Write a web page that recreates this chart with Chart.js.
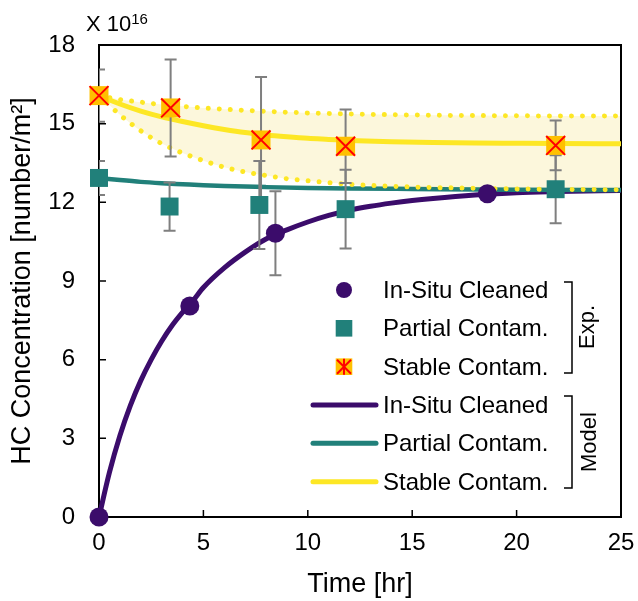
<!DOCTYPE html>
<html><head><meta charset="utf-8">
<script src="https://cdn.jsdelivr.net/npm/chart.js@4.4.0/dist/chart.umd.min.js"></script>
<style>html,body{margin:0;padding:0;background:#fff;}</style>
</head><body>
<canvas id="c" width="638" height="601"></canvas>
<script>
const FONT = "'Liberation Sans', Arial, sans-serif";

// ---- axis ticks / titles ----
const xTicks = [0, 5, 10, 15, 20, 25];
const yTicks = [0, 3, 6, 9, 12, 15, 18];
const xTitle = 'Time [hr]';
const yTitle = 'HC Concentration [number/m\u00B2]';
const scaleNote = ['X 10', '16'];

// ---- experimental data ----
const inSituT   = [0, 4.35, 8.45, 18.6];
const inSituY   = [0, 8.05, 10.82, 12.33];
const inSituErr = [0, 0, 1.6, 0];

const partialT   = [0, 3.38, 7.68, 11.81, 21.87];
const partialY   = [12.93, 11.84, 11.9, 11.74, 12.5];
const partialErr = [0.65, 0.92, 1.68, 1.5, 1.3];

const stableT   = [0, 3.43, 7.76, 11.81, 21.87];
const stableY   = [16.07, 15.6, 14.38, 14.14, 14.17];
const stableErr = [1.0, 1.85, 2.4, 1.4, 0.95];

// ---- model curves ----
const inSituModelT = [0,0.5,1,1.5,2,2.5,3,3.5,4,4.5,5,6,7,8,9,10,11,12,13,14,15,16,18,20,22,25];
const inSituModelY = [0,1.7,3.1,4.25,5.2,6.0,6.7,7.3,7.8,8.25,8.75,9.5,10.1,10.6,10.95,11.25,11.5,11.7,11.85,11.97,12.07,12.15,12.28,12.37,12.41,12.45];

const partialModelT = [0,1,2,3,4,5,6,8,10,12,15,20,25];
const partialModelY = [12.93,12.85,12.78,12.73,12.69,12.65,12.62,12.58,12.55,12.53,12.51,12.48,12.47];

const stableModelT = [0,1,2,3,4,5,6,7,8,9,10,11,12,14,16,18,20,22,25];
const stableModelY = [16.07,15.75,15.48,15.26,15.08,14.92,14.78,14.66,14.57,14.5,14.44,14.4,14.36,14.31,14.28,14.26,14.25,14.24,14.23];

const upperT = [0,1,2,3,4,5,6,8,10,12,15,20,25];
const upperY = [16.07,15.92,15.82,15.73,15.66,15.6,15.55,15.47,15.41,15.37,15.33,15.3,15.29];

const lowerT = [0,0.5,1,1.5,2,2.5,3,3.5,4,4.5,5,6,7,8,9,10,12,14,17,20,25];
const lowerY = [16.07,15.7,15.34,15.02,14.73,14.47,14.24,14.05,13.88,13.73,13.59,13.34,13.16,13.02,12.9,12.82,12.69,12.61,12.55,12.51,12.48];

// ---- legend ----
const legendLabels = ['In-Situ Cleaned', 'Partial Contam.', 'Stable Contam.', 'In-Situ Cleaned', 'Partial Contam.', 'Stable Contam.'];
const groupLabels = ['Exp.', 'Model'];

const C_INSITU = '#3b0c6b';
const C_PARTIAL = '#21807a';
const C_YELLOW = '#fde725';
const C_ORANGE = '#ffc000';
const C_RED = '#ff0000';
const C_FILL = '#fcf7dc';
const C_ERR = '#7f7f7f';

const pts = (t, y) => t.map((v, i) => ({x: v, y: y[i]}));

const decor = {
  id: 'decor',
  beforeDatasetsDraw(chart) {
    const {ctx, chartArea: a, scales: {x, y}} = chart;
    ctx.save();
    ctx.strokeStyle = '#000';
    ctx.lineWidth = 1.5;
    ctx.beginPath();
    xTicks.forEach(v => { const p = x.getPixelForValue(v); ctx.moveTo(p, a.bottom); ctx.lineTo(p, a.bottom - 7); });
    yTicks.forEach(v => { const p = y.getPixelForValue(v); ctx.moveTo(a.left, p); ctx.lineTo(a.left + 7, p); });
    ctx.stroke();
    ctx.lineWidth = 2;
    ctx.strokeRect(a.left, a.top, a.right - a.left, a.bottom - a.top);
    ctx.restore();
  },
  beforeDatasetDraw(chart, args) {
    if (args.index !== 3) return;
    const {ctx, chartArea: a, scales: {x, y}} = chart;
    ctx.save();
    ctx.beginPath();
    ctx.rect(a.left, a.top - 2, a.right - a.left, a.bottom - a.top + 4);
    ctx.clip();
    ctx.strokeStyle = C_ERR;
    ctx.lineWidth = 2;
    const draw = (T, Y, E) => T.forEach((t, i) => {
      if (!E[i]) return;
      const px = x.getPixelForValue(t);
      const hi = y.getPixelForValue(Y[i] + E[i]);
      const lo = y.getPixelForValue(Y[i] - E[i]);
      ctx.beginPath();
      ctx.moveTo(px, hi); ctx.lineTo(px, lo);
      ctx.moveTo(px - 6, hi); ctx.lineTo(px + 6, hi);
      ctx.moveTo(px - 6, lo); ctx.lineTo(px + 6, lo);
      ctx.stroke();
    });
    draw(stableT, stableY, stableErr);
    draw(partialT, partialY, partialErr);
    draw(inSituT, inSituY, inSituErr);
    ctx.restore();
  },
  afterDraw(chart) {
    const ctx = chart.ctx;
    ctx.save();
    // scale note
    ctx.fillStyle = '#000';
    ctx.textBaseline = 'alphabetic';
    ctx.textAlign = 'left';
    ctx.font = '22px ' + FONT;
    ctx.fillText(scaleNote[0], 86, 31);
    const w = ctx.measureText(scaleNote[0]).width;
    ctx.font = '15px ' + FONT;
    ctx.fillText(scaleNote[1], 86 + w, 24);

    // legend
    const rows = [290, 328.3, 366.7, 405, 443.3, 481.7];
    const mx = 344;
    ctx.fillStyle = C_INSITU;
    ctx.beginPath(); ctx.arc(mx, rows[0], 8, 0, Math.PI * 2); ctx.fill();
    ctx.fillStyle = C_PARTIAL;
    ctx.fillRect(mx - 8.3, rows[1] - 8.3, 16.6, 16.6);
    ctx.fillStyle = C_ORANGE;
    ctx.fillRect(mx - 8.3, rows[2] - 8.3, 16.6, 16.6);
    ctx.strokeStyle = C_RED; ctx.lineWidth = 2;
    ctx.beginPath();
    ctx.moveTo(mx - 7, rows[2] - 7); ctx.lineTo(mx + 7, rows[2] + 7);
    ctx.moveTo(mx + 7, rows[2] - 7); ctx.lineTo(mx - 7, rows[2] + 7);
    ctx.moveTo(mx, rows[2] - 8); ctx.lineTo(mx, rows[2] + 8);
    ctx.stroke();
    [C_INSITU, C_PARTIAL, C_YELLOW].forEach((c, i) => {
      ctx.strokeStyle = c; ctx.lineWidth = 5; ctx.lineCap = 'round';
      ctx.beginPath(); ctx.moveTo(313, rows[3 + i]); ctx.lineTo(376, rows[3 + i]); ctx.stroke();
    });
    ctx.lineCap = 'butt';
    ctx.fillStyle = '#000';
    ctx.font = '24px ' + FONT;
    legendLabels.forEach((s, i) => ctx.fillText(s, 383, rows[i] + 8));
    ctx.strokeStyle = '#000'; ctx.lineWidth = 1.5;
    const br = (t, b) => { ctx.beginPath(); ctx.moveTo(564, t); ctx.lineTo(572, t); ctx.lineTo(572, b); ctx.lineTo(564, b); ctx.stroke(); };
    br(282, 373);
    br(396, 488);
    ctx.font = '22px ' + FONT;
    ctx.textAlign = 'center';
    ctx.textBaseline = 'middle';
    [[588, 327, groupLabels[0]], [590, 442, groupLabels[1]]].forEach(([cx, cy, s]) => {
      ctx.save(); ctx.translate(cx, cy); ctx.rotate(-Math.PI / 2); ctx.fillText(s, 0, 0); ctx.restore();
    });
    ctx.restore();
  }
};

new Chart(document.getElementById('c'), {
  type: 'scatter',
  data: {
    datasets: [
      { data: pts(stableT, stableY), pointStyle: 'crossRot', pointRadius: 13.4, borderColor: C_RED, borderWidth: 2, backgroundColor: C_RED, showLine: false, clip: false, order: 0 },
      { data: pts(stableT, stableY), pointStyle: 'rect', pointRadius: 13.4, backgroundColor: C_ORANGE, borderWidth: 0, showLine: false, clip: false, order: 1 },
      { data: pts(partialT, partialY), pointStyle: 'rect', pointRadius: 12.7, backgroundColor: C_PARTIAL, borderWidth: 0, showLine: false, clip: false, order: 2 },
      { data: pts(inSituT, inSituY), pointStyle: 'circle', pointRadius: 9.5, backgroundColor: C_INSITU, borderWidth: 0, showLine: false, clip: false, order: 3 },
      { data: pts(stableModelT, stableModelY), showLine: true, pointRadius: 0, borderColor: C_YELLOW, borderWidth: 5, cubicInterpolationMode: 'monotone', fill: false, order: 4 },
      { data: pts(upperT, upperY), showLine: true, pointRadius: 0, borderColor: C_YELLOW, borderWidth: 5, borderDash: [0.01, 11], borderCapStyle: 'round', cubicInterpolationMode: 'monotone', fill: '+1', backgroundColor: C_FILL, order: 5 },
      { data: pts(lowerT, lowerY), showLine: true, pointRadius: 0, borderColor: C_YELLOW, borderWidth: 5, borderDash: [0.01, 11], borderCapStyle: 'round', cubicInterpolationMode: 'monotone', fill: false, order: 6 },
      { data: pts(partialModelT, partialModelY), showLine: true, pointRadius: 0, borderColor: C_PARTIAL, borderWidth: 4.5, cubicInterpolationMode: 'monotone', fill: false, order: 7 },
      { data: pts(inSituModelT, inSituModelY), showLine: true, pointRadius: 0, borderColor: C_INSITU, borderWidth: 5, cubicInterpolationMode: 'monotone', fill: false, order: 8 }
    ]
  },
  options: {
    responsive: false,
    animation: false,
    devicePixelRatio: 1,
    layout: { padding: { top: 45, right: 17, left: 0, bottom: 0 } },
    plugins: {
      legend: { display: false },
      tooltip: { enabled: false },
      filler: { drawTime: 'beforeDatasetsDraw' }
    },
    scales: {
      x: {
        type: 'linear', min: 0, max: 25,
        ticks: { stepSize: 5, color: '#000', font: { family: FONT, size: 24 }, padding: 12, maxRotation: 0 },
        grid: { display: false, drawTicks: false },
        border: { display: false },
        title: { display: true, text: xTitle, color: '#000', font: { family: FONT, size: 27 }, padding: { top: 0, bottom: 0 } },
        afterFit(s) { s.height = 84; s.paddingLeft = 0; s.paddingRight = 0; }
      },
      y: {
        type: 'linear', min: 0, max: 18,
        ticks: { stepSize: 3, color: '#000', font: { family: FONT, size: 24 }, padding: 24 },
        grid: { display: false, drawTicks: false },
        border: { display: false },
        title: { display: true, text: yTitle, color: '#000', font: { family: FONT, size: 27 }, padding: { top: 6, bottom: 0 } },
        afterFit(s) { s.width = 99; s.paddingTop = 0; s.paddingBottom = 0; }
      }
    }
  },
  plugins: [decor]
});
</script>
</body></html>
